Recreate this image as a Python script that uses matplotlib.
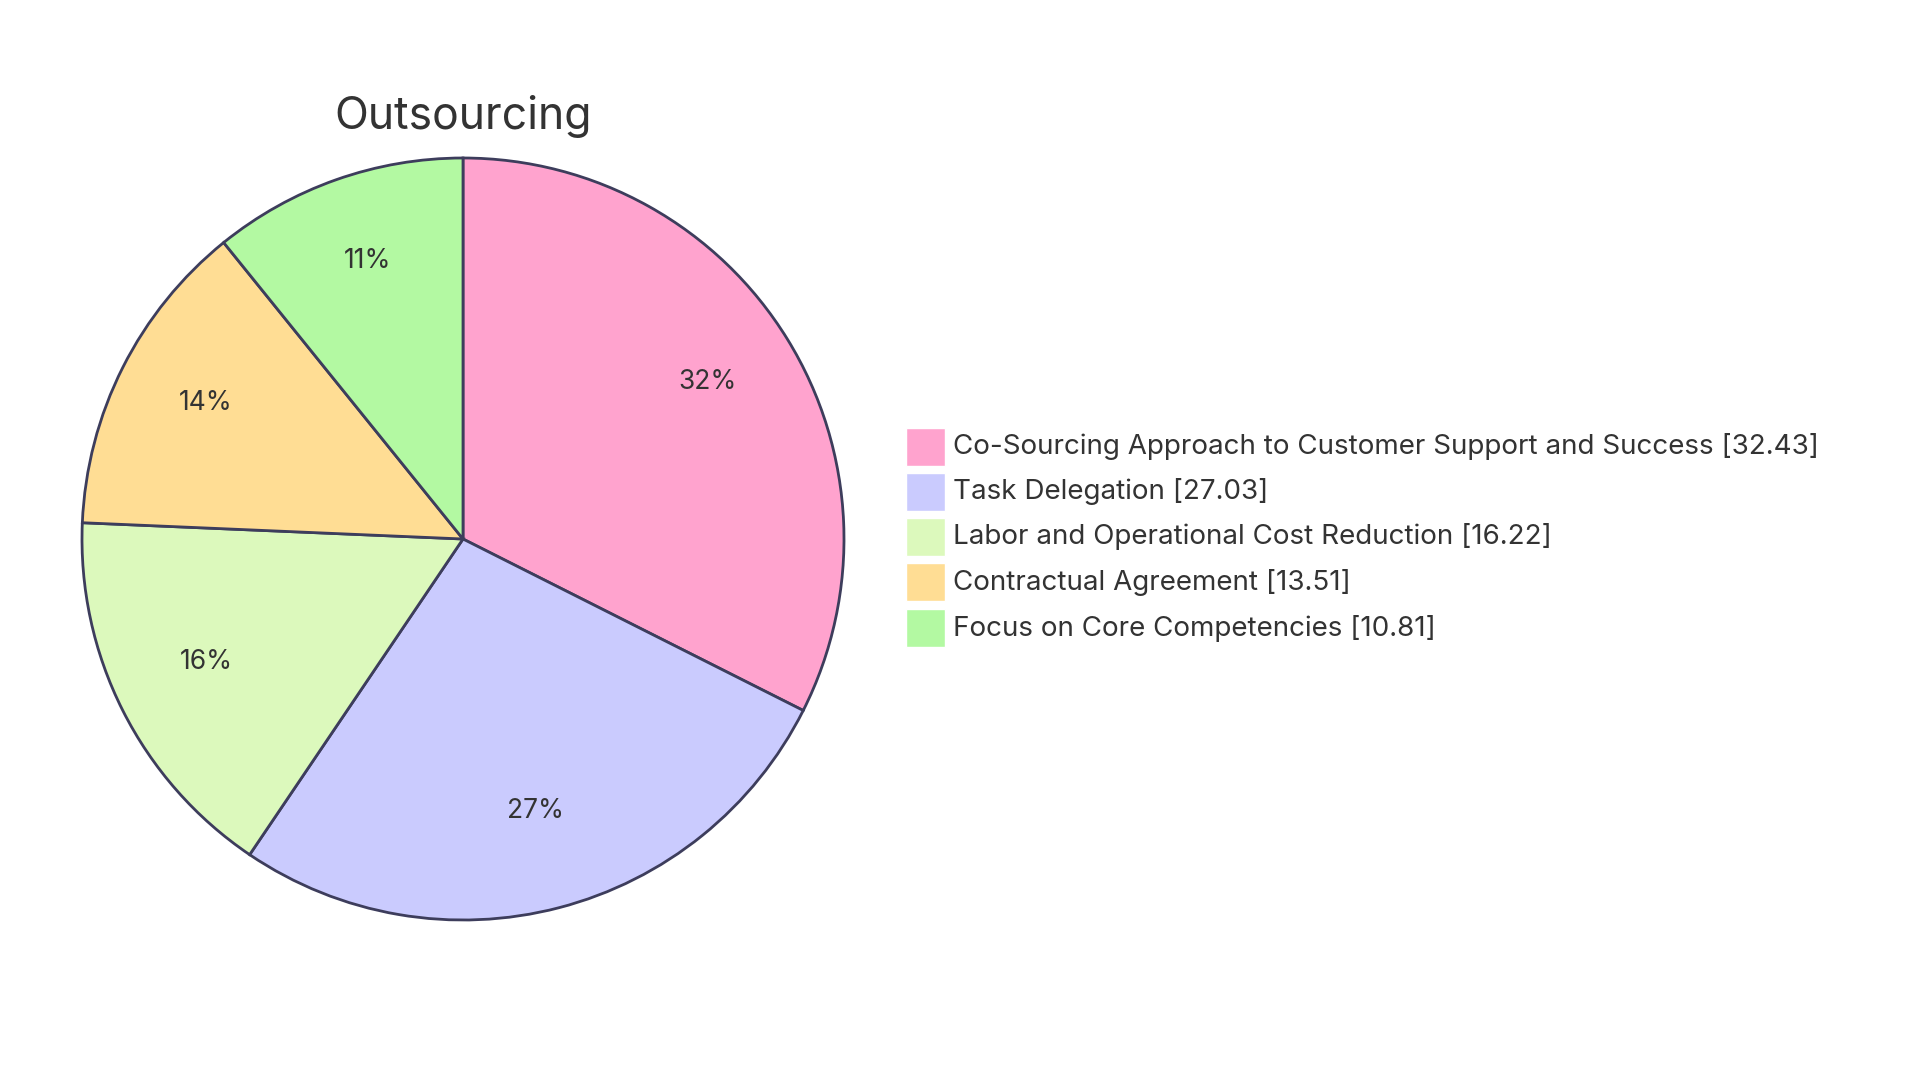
import matplotlib
matplotlib.use("Agg")
import matplotlib.pyplot as plt
from matplotlib.patches import Rectangle

plt.rcParams['font.family'] = ['Inter', 'DejaVu Sans']

# chart data
labels = ["Co-Sourcing Approach to Customer Support and Success",
          "Task Delegation",
          "Labor and Operational Cost Reduction",
          "Contractual Agreement",
          "Focus on Core Competencies"]
values = [32.43, 27.03, 16.22, 13.51, 10.81]
colors = ["#FFA3CE", "#CACBFE", "#DCF9BC", "#FFDD94", "#B3F9A2"]
title = "Outsourcing"

text_color = "#333333"
edge_color = "#3D3D5C"

fig = plt.figure(figsize=(19.2, 10.8), dpi=100)

# pie centre at (463, 539) px, radius 381 px
cx, cy, r = 463 / 1920, 1 - 539 / 1080, 381
ax = fig.add_axes([cx - r / 1920, cy - r / 1080, 2 * r / 1920, 2 * r / 1080])
wedges, texts, autotexts = ax.pie(values, colors=colors, startangle=90, counterclock=False,
                                  autopct=lambda p: "%d%%" % round(p), pctdistance=0.755,
                                  wedgeprops=dict(edgecolor=edge_color, linewidth=2),
                                  textprops=dict(fontsize=19, color=text_color))
# labels sit a little above their anchor in the original
for t in autotexts:
    t.set_y(t.get_position()[1] + 0.017)
ax.set_xlim(-1, 1)
ax.set_ylim(-1, 1)
ax.set_aspect("equal")
ax.axis("off")

fig.text(cx, 1 - 116 / 1080, title, ha="center", va="center", fontsize=32, color=text_color)

# legend, drawn by hand
row_y = [447, 492, 537, 582, 628]
for lab, val, col, y in zip(labels, values, colors, row_y):
    fig.patches.append(Rectangle((906 / 1920, 1 - (y + 19) / 1080), 39 / 1920, 38 / 1080,
                                 transform=fig.transFigure, facecolor=col, edgecolor="white",
                                 linewidth=1))
    fig.text(953 / 1920, 1 - y / 1080, "%s [%.2f]" % (lab, val), ha="left", va="center",
             fontsize=20, color=text_color)

fig.savefig("out.png", dpi=100, facecolor="white")
